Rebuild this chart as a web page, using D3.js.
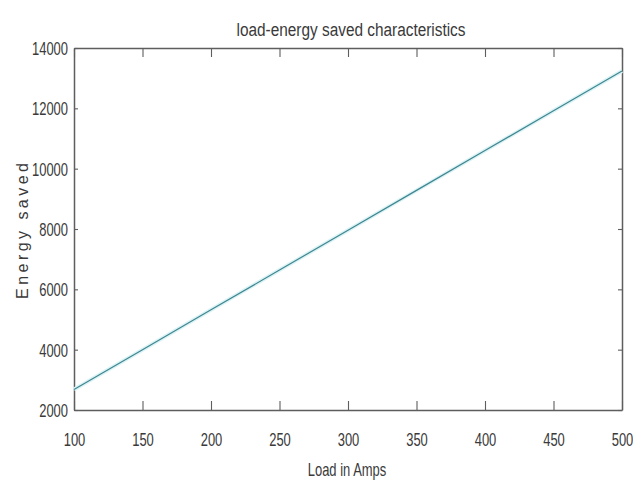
<!DOCTYPE html>
<html>
<head>
<meta charset="utf-8">
<script src="https://cdn.jsdelivr.net/npm/d3@7"></script>
<style>
  html, body { margin: 0; padding: 0; background: #fff; }
  svg { display: block; }
  text { font-family: "Liberation Sans", Arial, sans-serif; fill: #3a3a3a; }
</style>
</head>
<body>
<svg id="chart" width="633" height="487"></svg>
<script>
// Data
const loadAmps = [100, 150, 200, 250, 300, 350, 400, 450, 500];
const energySaved = [2680, 4000, 5320, 6640, 7960, 9280, 10600, 11920, 13240];
const xTickValues = [100, 150, 200, 250, 300, 350, 400, 450, 500];
const yTickValues = [2000, 4000, 6000, 8000, 10000, 12000, 14000];
const titleText = "load-energy saved characteristics";
const xLabelText = "Load in Amps";
const yLabelText = "Energy saved";

const svg = d3.select("#chart");
const plotLeft = 74, plotRight = 622, plotTop = 48, plotBottom = 410;
const sx = 0.72;

const x = d3.scaleLinear().domain([100, 500]).range([plotLeft, plotRight]);
const y = d3.scaleLinear().domain([2000, 14000]).range([plotBottom, plotTop]);

const axisColor = "#5e5e5e";

function styleAxis(g) {
  g.selectAll("path.domain").attr("stroke", axisColor).attr("stroke-width", 1.5);
  g.selectAll(".tick line").attr("stroke", axisColor).attr("stroke-width", 1.1);
}

// Bottom axis
const gx = svg.append("g").attr("transform", `translate(0,${plotBottom})`)
  .call(d3.axisBottom(x).tickValues(xTickValues).tickSizeInner(-9).tickSizeOuter(0).tickFormat(d3.format("d")));
styleAxis(gx);
gx.selectAll(".tick text")
  .attr("y", 0).attr("dy", null)
  .attr("transform", `translate(0,36) scale(${sx},1)`)
  .attr("font-size", 18).attr("fill", "#3a3a3a")
  .attr("font-family", "Liberation Sans, Arial, sans-serif")
  .attr("text-anchor", "middle");

// Top axis (box)
const gt = svg.append("g").attr("transform", `translate(0,${plotTop})`)
  .call(d3.axisTop(x).tickValues(xTickValues).tickSizeInner(-9).tickSizeOuter(0).tickFormat(""));
styleAxis(gt);

// Left axis
const gy = svg.append("g").attr("transform", `translate(${plotLeft},0)`)
  .call(d3.axisLeft(y).tickValues(yTickValues).tickSizeInner(-4).tickSizeOuter(0).tickFormat(d3.format("d")));
styleAxis(gy);
gy.selectAll(".tick text")
  .attr("x", 0).attr("dy", null).attr("y", 0)
  .attr("transform", `translate(-6,6.5) scale(${sx},1)`)
  .attr("font-size", 18).attr("fill", "#3a3a3a")
  .attr("font-family", "Liberation Sans, Arial, sans-serif")
  .attr("text-anchor", "end");

// Right axis (box)
const gr = svg.append("g").attr("transform", `translate(${plotRight},0)`)
  .call(d3.axisRight(y).tickValues(yTickValues).tickSizeInner(-4).tickSizeOuter(0).tickFormat(""));
styleAxis(gr);

// Line
const line = d3.line().x((d, i) => x(loadAmps[i])).y(d => y(d));
svg.append("path").datum(energySaved)
  .attr("fill", "none").attr("stroke", "#dcf3f5").attr("stroke-width", 4)
  .attr("d", line);
svg.append("path").datum(energySaved)
  .attr("fill", "none").attr("stroke", "#3f8690").attr("stroke-width", 1.2)
  .attr("d", line);

// Title
svg.append("text")
  .attr("x", 351).attr("y", 36)
  .attr("text-anchor", "middle").attr("font-size", 18).attr("fill", "#151515")
  .attr("textLength", 229).attr("lengthAdjust", "spacingAndGlyphs")
  .text(titleText);

// X label
svg.append("text")
  .attr("transform", `translate(347,476) scale(${sx},1)`)
  .attr("text-anchor", "middle").attr("font-size", 18).attr("fill", "#3a3a3a")
  .text(xLabelText);

// Y label
svg.append("text")
  .attr("transform", `translate(28,231) rotate(-90)`)
  .attr("text-anchor", "middle").attr("font-size", 16).attr("fill", "#444")
  .attr("textLength", 136).attr("lengthAdjust", "spacing")
  .text(yLabelText);
</script>
</body>
</html>
